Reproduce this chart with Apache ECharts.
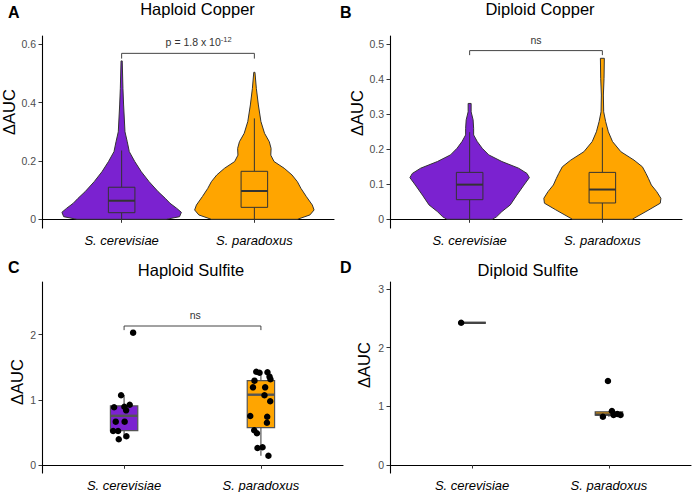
<!DOCTYPE html>
<html>
<head>
<meta charset="utf-8">
<script src="https://cdn.jsdelivr.net/npm/echarts@6/dist/echarts.min.js"></script>
<style>html,body{margin:0;padding:0;background:#fff}#c{width:692px;height:492px}</style>
</head>
<body>
<div id="c"></div>
<script>
// ---------- DATA ----------
const categories = ['S. cerevisiae', 'S. paradoxus'];
const panelTitles = ['Haploid Copper', 'Diploid Copper', 'Haploid Sulfite', 'Diploid Sulfite'];
const panelLetters = ['A', 'B', 'C', 'D'];
const yAxisTitle = 'ΔAUC';

// tick labels
const ticksA = [0, 0.2, 0.4, 0.6];
const ticksB = [0, 0.1, 0.2, 0.3, 0.4, 0.5];
const ticksC = [0, 1, 2];
const ticksD = [0, 1, 2, 3];

// violin profiles: [value, relative density width]
const hapCuCerViolin = [[0.0,0.75],[0.009,0.97],[0.024,1.0],[0.038,0.92],[0.055,0.81],[0.072,0.73],[0.095,0.61],[0.129,0.46],[0.163,0.33],[0.198,0.22],[0.232,0.128],[0.266,0.094],[0.300,0.056],[0.392,0.033],[0.448,0.022],[0.543,0.01]];
const hapCuParViolin = [[0.0,0.72],[0.015,0.93],[0.032,1.0],[0.049,0.97],[0.078,0.87],[0.106,0.78],[0.129,0.72],[0.152,0.63],[0.175,0.5],[0.198,0.33],[0.220,0.275],[0.243,0.28],[0.266,0.25],[0.295,0.17],[0.335,0.11],[0.392,0.067],[0.449,0.033],[0.504,0.01]];
const dipCuCerViolin = [[0.0,0.38],[0.007,0.45],[0.022,0.54],[0.041,0.68],[0.069,0.79],[0.098,0.91],[0.119,1.0],[0.131,0.96],[0.146,0.82],[0.165,0.54],[0.184,0.32],[0.203,0.21],[0.222,0.128],[0.241,0.067],[0.260,0.067],[0.284,0.058],[0.307,0.025],[0.331,0.025]];
const dipCuParViolin = [[0.0,0.5],[0.027,0.78],[0.046,0.97],[0.060,0.98],[0.079,0.91],[0.098,0.82],[0.117,0.77],[0.131,0.73],[0.150,0.67],[0.169,0.53],[0.193,0.31],[0.222,0.17],[0.250,0.10],[0.279,0.055],[0.307,0.022],[0.355,0.017],[0.403,0.028],[0.460,0.033]];

// boxes: [lower whisker, Q1, median, Q3, upper whisker]
const hapCuCerBox = [0, 0.0227, 0.0637, 0.110, 0.236];
const hapCuParBox = [0, 0.041, 0.097, 0.1646, 0.346];
const dipCuCerBox = [0, 0.056, 0.099, 0.134, 0.249];
const dipCuParBox = [0, 0.0466, 0.085, 0.134, 0.262];
const hapSuCerBox = [0.41, 0.53, 0.758, 0.91, 1.077];
const hapSuParBox = [0.147, 0.576, 1.081, 1.296, 1.433];
const dipSuCerBox = [2.424, 2.424, 2.424, 2.424, 2.424];
const dipSuParBox = [0.823, 0.852, 0.86, 0.905, 0.92];

// points (values and jitter offsets in category units)
const hapSuCerVals = [2.031, 1.072, 0.888, 0.897, 0.928, 0.842, 0.668, 0.668, 0.525, 0.525, 0.444, 0.398];
const hapSuCerJit  = [0.066, -0.022, -0.073, 0.002, 0.041, 0.015, -0.061, 0.004, -0.080, -0.044, 0.017, -0.039];
const hapSuParVals = [1.433, 1.418, 1.424, 1.357, 1.317, 1.296, 1.194, 1.194, 1.072, 0.98, 0.755, 0.744, 0.652, 0.536, 0.49, 0.265, 0.276, 0.147];
const hapSuParJit  = [-0.034, -0.010, 0.048, 0.063, 0.070, -0.047, -0.058, 0.031, 0.026, 0.068, -0.078, 0.046, 0.044, -0.049, -0.029, -0.025, 0.012, 0.055];
const dipSuCerVals = [2.424];
const dipSuCerJit  = [-0.08];
const dipSuParVals = [1.431, 0.823, 0.92, 0.852, 0.869, 0.852];
const dipSuParJit  = [-0.007, -0.044, 0.022, 0.034, 0.061, 0.085];

// significance brackets: [x1, x2, y, yTip]
const hapCuBracket = [1, 2, 0.569, 0.551];
const dipCuBracket = [1, 2, 0.482, 0.469];
const hapSuBracket = [1, 2, 2.133, 2.07];
const hapCuLabel = 'p = 1.8 x 10{sup|-12}';
const dipCuLabel = 'ns';
const hapSuLabel = 'ns';

// ---------- STYLE ----------
const FONT = '"Liberation Sans", Arial, Helvetica, sans-serif';
const COLORS = ['#7B22D0', '#FFA500'];
const VIOLIN_HALF = 0.45;
const BOX_HALF = 0.1;

const grids = [
  {left: 42, top: 36, width: 292, height: 192},
  {left: 390, top: 36, width: 292, height: 192},
  {left: 42, top: 282, width: 301, height: 191},
  {left: 390, top: 282, width: 301, height: 191}
];
const yRanges = [[-0.0298, 0.6285], [-0.0249, 0.5237], [-0.118, 2.807], [-0.136, 3.119]];
const yTicks = [ticksA, ticksB, ticksC, ticksD];

const xAxes = grids.map((g, i) => ({
  type: 'value', gridIndex: i, min: 0.4, max: 2.6,
  axisLine: {show: true, lineStyle: {color: '#000', width: 1.1}},
  axisTick: {show: true, customValues: [1, 2], length: 3.5, lineStyle: {color: '#333', width: 1}},
  axisLabel: {show: true, customValues: [1, 2], formatter: v => categories[Math.round(v) - 1],
    fontStyle: 'italic', fontSize: 13, color: '#000', margin: 6, fontFamily: FONT},
  splitLine: {show: false}
}));
const yAxes = grids.map((g, i) => ({
  type: 'value', gridIndex: i, min: yRanges[i][0], max: yRanges[i][1],
  axisLine: {show: true, lineStyle: {color: '#000', width: 1.1}},
  axisTick: {show: true, customValues: yTicks[i], length: 3.5, lineStyle: {color: '#333', width: 1}},
  axisLabel: {show: true, customValues: yTicks[i], formatter: v => String(v),
    fontSize: 10.5, color: '#4d4d4d', margin: 6, fontFamily: FONT},
  splitLine: {show: false}
}));

function violinSeries(gi, profiles) {
  return {
    type: 'custom', xAxisIndex: gi, yAxisIndex: gi, silent: true, z: 2,
    data: [[1, 0], [2, 0]], encode: {x: 0, y: 1},
    renderItem: (params, api) => {
      const prof = profiles[params.dataIndex];
      const cx = api.value(0);
      const left = prof.map(p => api.coord([cx - p[1] * VIOLIN_HALF, p[0]]));
      const right = prof.slice().reverse().map(p => api.coord([cx + p[1] * VIOLIN_HALF, p[0]]));
      return {type: 'polygon', shape: {points: left.concat(right)},
        style: {fill: COLORS[params.dataIndex], stroke: '#333', lineWidth: 1}};
    }
  };
}

function boxSeries(gi, boxes, stroke, lw) {
  return {
    type: 'custom', xAxisIndex: gi, yAxisIndex: gi, silent: true, z: 3,
    data: boxes.map((b, i) => [i + 1].concat(b)), encode: {x: 0, y: [1, 2, 3, 4, 5]},
    renderItem: (params, api) => {
      const x = api.value(0);
      const lo = api.coord([x, api.value(1)]), q1 = api.coord([x, api.value(2)]);
      const q3 = api.coord([x, api.value(4)]), hi = api.coord([x, api.value(5)]);
      const md = api.value(3);
      const tl = api.coord([x - BOX_HALF, api.value(4)]), br = api.coord([x + BOX_HALF, api.value(2)]);
      const ml = api.coord([x - BOX_HALF, md]), mr = api.coord([x + BOX_HALF, md]);
      const ls = {stroke: stroke, lineWidth: lw};
      return {type: 'group', children: [
        {type: 'line', shape: {x1: q3[0], y1: q3[1], x2: hi[0], y2: hi[1]}, style: ls},
        {type: 'line', shape: {x1: q1[0], y1: q1[1], x2: lo[0], y2: lo[1]}, style: ls},
        {type: 'rect', shape: {x: tl[0], y: tl[1], width: br[0] - tl[0], height: br[1] - tl[1]},
          style: {fill: COLORS[params.dataIndex], stroke: stroke, lineWidth: lw}},
        {type: 'line', shape: {x1: ml[0], y1: ml[1], x2: mr[0], y2: mr[1]}, style: {stroke: stroke, lineWidth: lw * 2}}
      ]};
    }
  };
}

function pointSeries(gi, center, vals, jit) {
  return {
    type: 'scatter', xAxisIndex: gi, yAxisIndex: gi, silent: true, z: 4,
    symbolSize: 6.5, itemStyle: {color: '#000', opacity: 1},
    data: vals.map((v, i) => [center + jit[i], v])
  };
}

function bracketSeries(gi, br, label, labelX) {
  return {
    type: 'custom', xAxisIndex: gi, yAxisIndex: gi, silent: true, z: 5,
    data: [br.concat([labelX])], encode: {x: [0, 1, 4], y: [2, 3]},
    renderItem: (params, api) => {
      const a = api.coord([api.value(0), api.value(3)]), b = api.coord([api.value(0), api.value(2)]);
      const c = api.coord([api.value(1), api.value(2)]), d = api.coord([api.value(1), api.value(3)]);
      const t = api.coord([api.value(4), api.value(2)]);
      return {type: 'group', children: [
        {type: 'polyline', shape: {points: [a, b, c, d]}, style: {stroke: '#444', lineWidth: 1, fill: null}},
        {type: 'text', x: t[0], y: t[1] - 11, style: {
          text: label, fill: '#333', fontSize: 10.5, fontFamily: FONT, align: 'center', verticalAlign: 'middle',
          lineHeight: 14,
          rich: {sup: {fontSize: 7.5, fill: '#333', fontFamily: FONT, verticalAlign: 'top', lineHeight: 14, padding: [0, 0, 6, 0]}}
        }}
      ]};
    }
  };
}

const series = [
  violinSeries(0, [hapCuCerViolin, hapCuParViolin]),
  boxSeries(0, [hapCuCerBox, hapCuParBox], '#333', 1),
  bracketSeries(0, hapCuBracket, hapCuLabel, 1.58),
  violinSeries(1, [dipCuCerViolin, dipCuParViolin]),
  boxSeries(1, [dipCuCerBox, dipCuParBox], '#333', 1),
  bracketSeries(1, dipCuBracket, dipCuLabel, 1.5),
  boxSeries(2, [hapSuCerBox, hapSuParBox], '#555', 1.2),
  pointSeries(2, 1, hapSuCerVals, hapSuCerJit),
  pointSeries(2, 2, hapSuParVals, hapSuParJit),
  bracketSeries(2, hapSuBracket, hapSuLabel, 1.52),
  boxSeries(3, [dipSuCerBox, dipSuParBox], '#444', 1.2),
  pointSeries(3, 1, dipSuCerVals, dipSuCerJit),
  pointSeries(3, 2, dipSuParVals, dipSuParJit)
];

const letterPos = [[8, 12], [340, 12], [8, 267], [340, 267]];
const titlePos = [[197.5, 9], [540, 9], [191, 270], [528, 270]];
const yNamePos = [[9, 112], [357, 113], [17, 382], [364, 365]];
const graphic = [];
panelLetters.forEach((t, i) => graphic.push({type: 'text', x: letterPos[i][0], y: letterPos[i][1],
  style: {text: t, fill: '#000', font: 'bold 16px ' + FONT, align: 'left', verticalAlign: 'middle'}}));
panelTitles.forEach((t, i) => graphic.push({type: 'text', x: titlePos[i][0], y: titlePos[i][1],
  style: {text: t, fill: '#000', fontSize: 16.5, fontFamily: FONT, align: 'center', verticalAlign: 'middle'}}));
yNamePos.forEach((p, i) => graphic.push({type: 'text', x: p[0], y: p[1], rotation: Math.PI / 2,
  style: {text: yAxisTitle, fill: '#000', fontSize: 16.5, fontFamily: FONT, align: 'center', verticalAlign: 'middle'}}));

const chart = echarts.init(document.getElementById('c'), null, {renderer: 'svg'});
chart.setOption({
  animation: false,
  backgroundColor: '#fff',
  textStyle: {fontFamily: FONT},
  grid: grids,
  xAxis: xAxes,
  yAxis: yAxes,
  series: series,
  graphic: graphic
});
</script>
</body>
</html>
